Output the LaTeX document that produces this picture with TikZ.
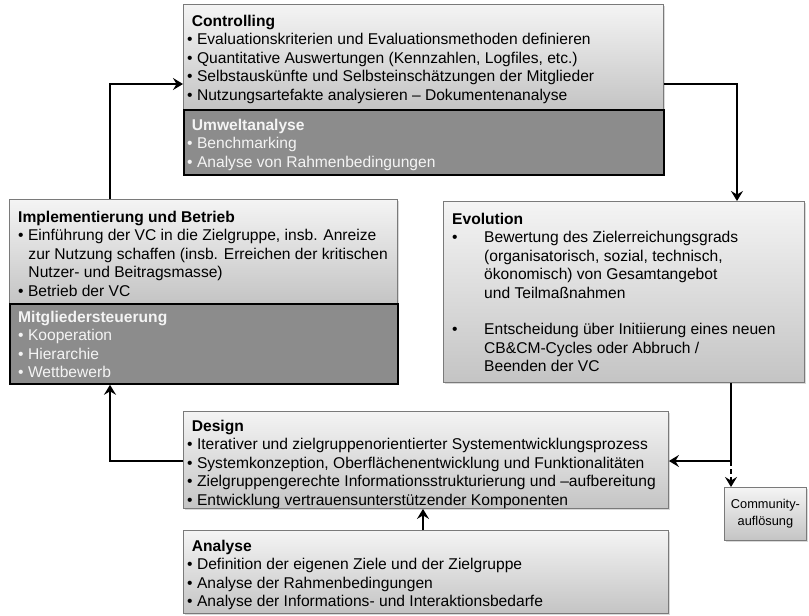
\documentclass[tikz,border=0pt]{standalone}
\usepackage{fontspec}
\setmainfont{Liberation Sans}
\usetikzlibrary{shadows,arrows.meta}
\definecolor{boxedge}{HTML}{7A7A7A}
\definecolor{lighttop}{HTML}{F4F4F4}
\definecolor{lightbot}{HTML}{C4C4C4}
\definecolor{darkfill}{HTML}{8C8C8C}
\definecolor{darktext}{HTML}{F4F4F4}
\newcommand{\bul}{•\hspace{0.28em}}
\newcommand{\hang}{\hspace*{0.66em}}
\begin{document}
\begin{tikzpicture}[x=1pt,y=-1pt,
  lightbox/.style={draw=boxedge, line width=0.9pt, top color=lighttop, bottom color=lightbot,
    drop shadow={shadow xshift=2pt, shadow yshift=-2pt, opacity=0.3}, anchor=north west, inner sep=0pt},
  darkbox/.style={draw=black, line width=1.8pt, fill=darkfill, anchor=north west, inner sep=0pt},
  txt/.style={anchor=north west, inner sep=0pt, align=left, font=\fontsize{15.6}{18.4}\selectfont},
  dtxt/.style={txt, text=darktext},
  conn/.style={line width=2.4pt, -{Stealth[length=10pt,width=12pt,inset=3.5pt]}},
]
\useasboundingbox (0,0) rectangle (809,616);

% boxes
\node[lightbox, minimum width=480pt, minimum height=105pt] (ctrl) at (183,4) {};
\node[darkbox, minimum width=480pt, minimum height=65pt] (umw) at (183,109) {};
\node[lightbox, minimum width=388pt, minimum height=104pt] (impl) at (9,199) {};
\node[darkbox, minimum width=388pt, minimum height=80pt] (mitg) at (9,303) {};
\node[lightbox, minimum width=361pt, minimum height=181pt] (evo) at (443,201) {};
\node[lightbox, minimum width=485pt, minimum height=97pt] (design) at (183,411) {};
\node[lightbox, minimum width=485pt, minimum height=83pt] (analyse) at (183,530) {};
\node[lightbox, minimum width=82pt, minimum height=53pt, align=center,
      font=\fontsize{12.8}{17}\selectfont] (comm) at (724,487) {Community-\\auflösung};

% texts
\node[txt] (ctrltxt) at (187,15) {\hspace*{0.3em}\textbf{Controlling}\\
\bul Evaluationskriterien und Evaluationsmethoden definieren\\
\bul Quantitative Auswertungen (Kennzahlen, Logfiles, etc.)\\
\bul Selbstauskünfte und Selbsteinschätzungen der Mitglieder\\
\bul Nutzungsartefakte analysieren – Dokumentenanalyse};

\node[dtxt] (umwtxt) at (187,119) {\hspace*{0.3em}\textbf{Umweltanalyse}\\
\bul Benchmarking\\
\bul Analyse von Rahmenbedingungen};

\node[txt] (impltxt) at (18,211) {\textbf{Implementierung und Betrieb}\\
\bul Einführung der VC in die Zielgruppe, insb. Anreize\\
\hang zur Nutzung schaffen (insb. Erreichen der kritischen\\
\hang Nutzer- und Beitragsmasse)\\
\bul Betrieb der VC};

\node[dtxt] (mitgtxt) at (18,311) {\textbf{Mitgliedersteuerung}\\
\bul Kooperation\\
\bul Hierarchie\\
\bul Wettbewerb};

\node[txt] (evotxt) at (452,213) {\textbf{Evolution}\\
\makebox[32pt][l]{•}Bewertung des Zielerreichungsgrads\\
\hspace*{32pt}(organisatorisch, sozial, technisch,\\
\hspace*{32pt}ökonomisch) von Gesamtangebot\\
\hspace*{32pt}und Teilmaßnahmen\\[18.4pt]
\makebox[32pt][l]{•}Entscheidung über Initiierung eines neuen\\
\hspace*{32pt}CB\&CM-Cycles oder Abbruch /\\
\hspace*{32pt}Beenden der VC};

\node[txt] (designtxt) at (187,420) {\hspace*{0.3em}\textbf{Design}\\
\bul Iterativer und zielgruppenorientierter Systementwicklungsprozess\\
\bul Systemkonzeption, Oberflächenentwicklung und Funktionalitäten\\
\bul Zielgruppengerechte Informationsstrukturierung und –aufbereitung\\
\bul Entwicklung vertrauensunterstützender Komponenten};

\node[txt] (analysetxt) at (187,540) {\hspace*{0.3em}\textbf{Analyse}\\
\bul Definition der eigenen Ziele und der Zielgruppe\\
\bul Analyse der Rahmenbedingungen\\
\bul Analyse der Informations- und Interaktionsbedarfe};

% connectors
\coordinate (k1) at (110,84);
\coordinate (k2) at (737,84);
\coordinate (k3) at (731,461);
\coordinate (k4) at (110,461);
\coordinate (k5) at (423,520);
\draw[conn] (impl.north -| k1) -- (k1) -- (ctrl.west |- k1);
\draw[conn] (ctrl.east |- k2) -- (k2) -- (evo.north -| k2);
\draw[conn] (evo.south -| k3) -- (k3) -- (design.east |- k3);
\draw[conn, dash pattern=on 5pt off 3pt] (k3) -- (comm.north -| k3);
\draw[conn] (design.west |- k4) -- (k4) -- (mitg.south -| k4);
\draw[conn] (analyse.north -| k5) -- (design.south -| k5);
\end{tikzpicture}
\end{document}
